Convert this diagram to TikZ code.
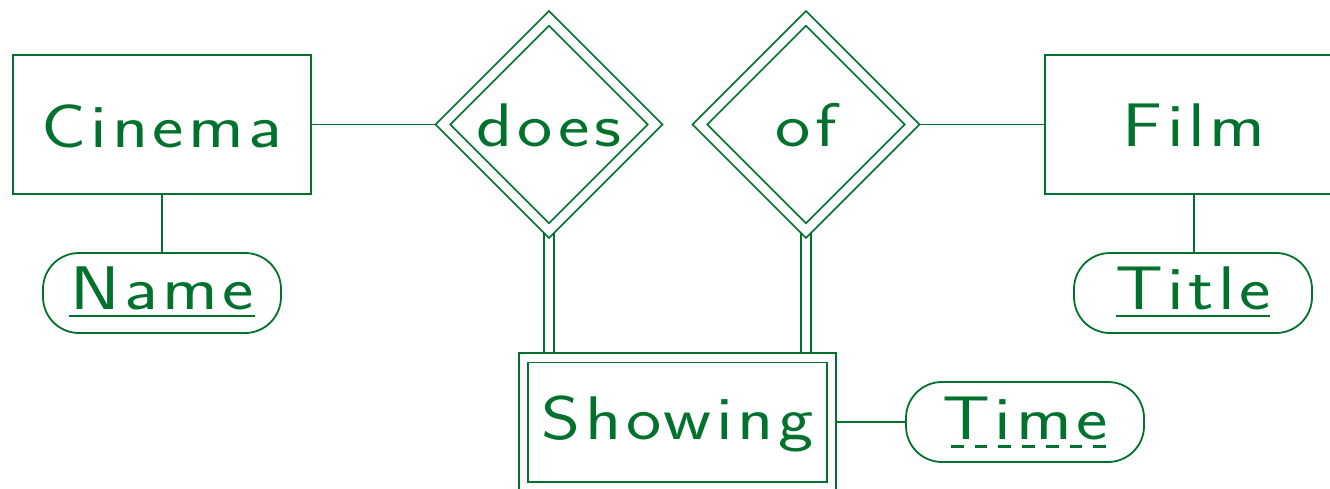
\documentclass[tikz,border=0pt]{standalone}
\usepackage{graphicx}
\usepackage{fontspec}
\newfontfamily\ersf{lmsans17-regular.otf}[LetterSpace=6]
\usetikzlibrary{shapes.geometric}
\definecolor{erg}{RGB}{0,114,45}
\pgfdeclarelayer{bg}
\pgfsetlayers{bg,main}
\newcommand{\ert}[1]{\scalebox{4.4}[3.62]{\fontsize{17}{20}\ersf #1}}
\tikzset{
  every node/.style={text=erg, inner sep=0pt},
  lw/.style={line width=1.8pt},
  entity/.style={draw=erg, lw, rectangle, minimum width=298pt, minimum height=139pt},
  weakent/.style={draw=erg, lw, double=white, double distance=7.5pt, rectangle, minimum width=308pt, minimum height=128.5pt},
  attr/.style={draw=erg, lw, rectangle, rounded corners=36pt, minimum width=238pt, minimum height=80pt},
  wrel/.style={draw=erg, lw, double=white, double distance=8.4pt, diamond, aspect=1, minimum width=213pt, minimum height=213pt},
  conn/.style={draw=erg, lw},
  dconn/.style={draw=erg, lw, double=white, double distance=7.8pt},
  uline/.style={draw=erg, line width=2pt},
  duline/.style={draw=erg, line width=3.4pt, dash pattern=on 12.7pt off 11pt},
}
\begin{document}
\begin{tikzpicture}[x=1pt, y=-1pt]
\useasboundingbox (0,0) rectangle (1330,489);
\node[entity, text height=46pt, text depth=0pt] (cinema) at (162,124.5) {\ert{Cinema}};
\node[entity, text height=44pt, text depth=0pt] (film) at (1194,124.5) {\ert{Film}};
\node[attr, text height=32pt, text depth=0pt] (name) at (162,293) {\ert{Name}};
\node[attr, text height=32pt, text depth=0pt] (title) at (1193,293) {\ert{Title}};
\node[attr, text height=34pt, text depth=0pt] (time) at (1025,422) {\ert{Time}};
\node[wrel, text height=45pt, text depth=0pt] (does) at (549,124.5) {\ert{does}};
\node[wrel, text height=45pt, text depth=0pt] (of) at (806,124.5) {\ert{of}};
\node[weakent, text height=35pt, text depth=0pt] (showing) at (677.5,422) {\ert{Showing}};
\begin{pgfonlayer}{bg}
\draw[conn] (cinema.east) -- (does.west);
\draw[conn] (of.east) -- (film.west);
\draw[conn] (cinema.south) -- (name.north);
\draw[conn] (film.south) -- (film.south |- title.north);
\draw[conn] (showing.east) -- (time.west);
\draw[dconn] (does.south) -- (does.south |- showing.north);
\draw[dconn] (of.south) -- (of.south |- showing.north);
\end{pgfonlayer}
\draw[uline] (69,316) -- (255,316);
\draw[uline] (1116,316) -- (1270,316);
\draw[duline] (951,446.5) -- (1106,446.5);
\end{tikzpicture}
\end{document}
